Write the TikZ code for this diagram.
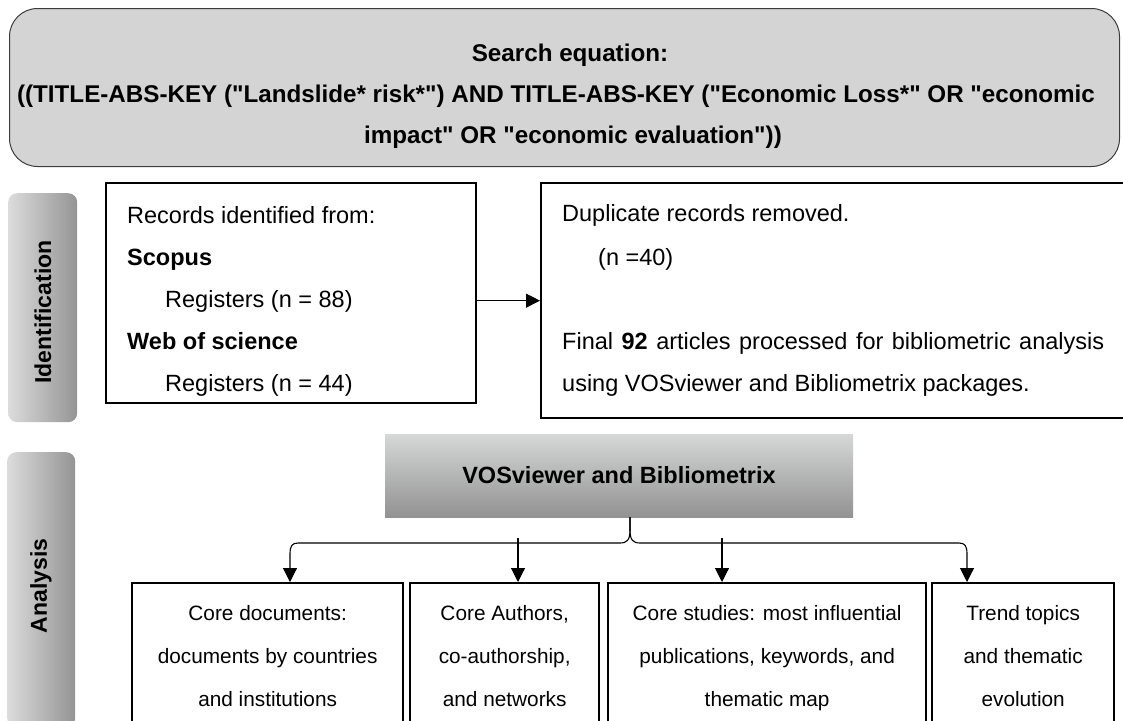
\documentclass[tikz,border=0pt]{standalone}
\usepackage{fontspec}
\setmainfont{Liberation Sans}
\usetikzlibrary{arrows.meta,calc}
\definecolor{boxgray}{RGB}{212,212,212}
\definecolor{boxline}{RGB}{60,60,60}
\definecolor{tabL}{RGB}{220,220,220}
\definecolor{tabR}{RGB}{148,148,148}
\definecolor{vosT}{RGB}{214,215,215}
\definecolor{vosB}{RGB}{146,146,146}
\newcommand\bodyfont{\fontsize{23.5}{28}\selectfont}
\newcommand\titlefont{\fontsize{24.2}{28}\selectfont\bfseries}
\newcommand\smallfont{\fontsize{20.8}{25}\selectfont}
\newcommand\qq{\textquotedbl}
\begin{document}
\begin{tikzpicture}[x=1pt,y=-1pt,
  frame/.style={draw=black, line width=2.3pt, inner sep=0pt},
  arr/.style={-{Triangle[length=14pt,width=14pt]}, line width=1.1pt},
  txt/.style={inner sep=0pt, font=\bodyfont},
  btxt/.style={inner sep=0pt, font=\titlefont, anchor=base},
  stxt/.style={inner sep=0pt, font=\smallfont, anchor=base},
  tab/.style={rounded corners=9pt, left color=tabL, right color=tabR, draw=none, inner sep=0pt},
  tablab/.style={rotate=90, inner sep=0pt, font=\fontsize{23}{26}\selectfont\bfseries},
]
\useasboundingbox (0,0) rectangle (1123,720);
\clip (0,0) rectangle (1123,720);

% search equation box
\node[draw=boxline, line width=1pt, fill=boxgray, rounded corners=28pt, minimum width=1110pt, minimum height=158pt, anchor=north west, inner sep=0pt] (search) at (9,8) {};
\node[btxt] (t1) at (570,61) {Search equation:};
\node[btxt] (t2) at (556,102) {((TITLE-ABS-KEY (\qq Landslide* risk*\qq) AND TITLE-ABS-KEY (\qq Economic Loss*\qq\ OR \qq economic};
\node[btxt] (t3) at (573,143) {impact\qq\ OR \qq economic evaluation\qq))};

% side tabs
\node[tab, minimum width=69pt, minimum height=229pt, anchor=north west] (idtab) at (8,193) {};
\node[tablab] (idlab) at (43,312) {Identification};
\node[tab, minimum width=68pt, minimum height=275pt, anchor=north west] (antab) at (7,452) {};
\node[tablab] (anlab) at (41,586) {Analysis};

% identification boxes
\node[frame, minimum width=370pt, minimum height=220pt, anchor=north west] (rec) at (105,182) {};
\node[txt, anchor=base west] (r1) at (127,223) {Records identified from:};
\node[txt, anchor=base west, font=\bodyfont\bfseries] (r2) at (127,265) {Scopus};
\node[txt, anchor=base west] (r3) at (165,307) {Registers (n = 88)};
\node[txt, anchor=base west, font=\bodyfont\bfseries] (r4) at (127,349) {Web of science};
\node[txt, anchor=base west] (r5) at (165,391) {Registers (n = 44)};

\node[frame, minimum width=600pt, minimum height=235pt, anchor=north west] (dup) at (540,182) {};
\node[txt, anchor=base west] (d1) at (562,221) {Duplicate records removed.};
\node[txt, anchor=base west] (d2) at (598,265) {(n =40)};
\node[txt, anchor=base west] (d3) at (562,349) {\makebox[542pt][s]{Final \textbf{92} articles processed for bibliometric analysis}};
\node[txt, anchor=base west] (d4) at (562,391) {using VOSviewer and Bibliometrix packages.};

\draw[arr] (rec.east |- dup.west) -- (dup.west);

% analysis
\node[top color=vosT, bottom color=vosB, minimum width=468pt, minimum height=83pt, anchor=north west, inner sep=0pt] (vos) at (385,434) {};
\node[btxt, font=\bodyfont\bfseries] (vlab) at (619,483) {VOSviewer and Bibliometrix};

\node[frame, minimum width=271pt, minimum height=150pt, anchor=north west] (ba) at (131,582) {};
\node[frame, minimum width=189pt, minimum height=150pt, anchor=north west] (bb) at (409,582) {};
\node[frame, minimum width=318pt, minimum height=150pt, anchor=north west] (bc) at (607,582) {};
\node[frame, minimum width=182pt, minimum height=150pt, anchor=north west] (bd) at (931,582) {};

\node[stxt] (a1) at (ba.north |- 0,620) {Core documents:};
\node[stxt] (a2) at (ba.north |- 0,663) {documents by countries};
\node[stxt] (a3) at (ba.north |- 0,706) {and institutions};
\node[stxt] (b1) at (bb.north |- 0,620) {Core Authors,};
\node[stxt] (b2) at (bb.north |- 0,663) {co-authorship,};
\node[stxt] (b3) at (bb.north |- 0,706) {and networks};
\node[stxt] (c1) at (bc.north |- 0,620) {Core studies: most influential};
\node[stxt] (c2) at (bc.north |- 0,663) {publications, keywords, and};
\node[stxt] (c3) at (bc.north |- 0,706) {thematic map};
\node[stxt] (e1) at (bd.north |- 0,620) {Trend topics};
\node[stxt] (e2) at (bd.north |- 0,663) {and thematic};
\node[stxt] (e3) at (bd.north |- 0,706) {evolution};

% connectors
\coordinate (brace) at (630,517);
\coordinate (m1) at (518,538);
\coordinate (m2) at (722,538);
\coordinate (lx) at (290,554);
\coordinate (rx) at (967,554);
\draw[arr] (brace) -- (630,530) .. controls (630,540) and (627,543) .. (620,543)
  -- (298,543) .. controls (292,543) and (290,546) .. (lx) -- (lx |- ba.north);
\draw[arr] (brace) -- (630,530) .. controls (630,540) and (633,543) .. (640,543)
  -- (959,543) .. controls (965,543) and (967,546) .. (rx) -- (rx |- bd.north);
\draw[arr] (m1) -- (m1 |- bb.north);
\draw[arr] (m2) -- (m2 |- bc.north);
\end{tikzpicture}
\end{document}
